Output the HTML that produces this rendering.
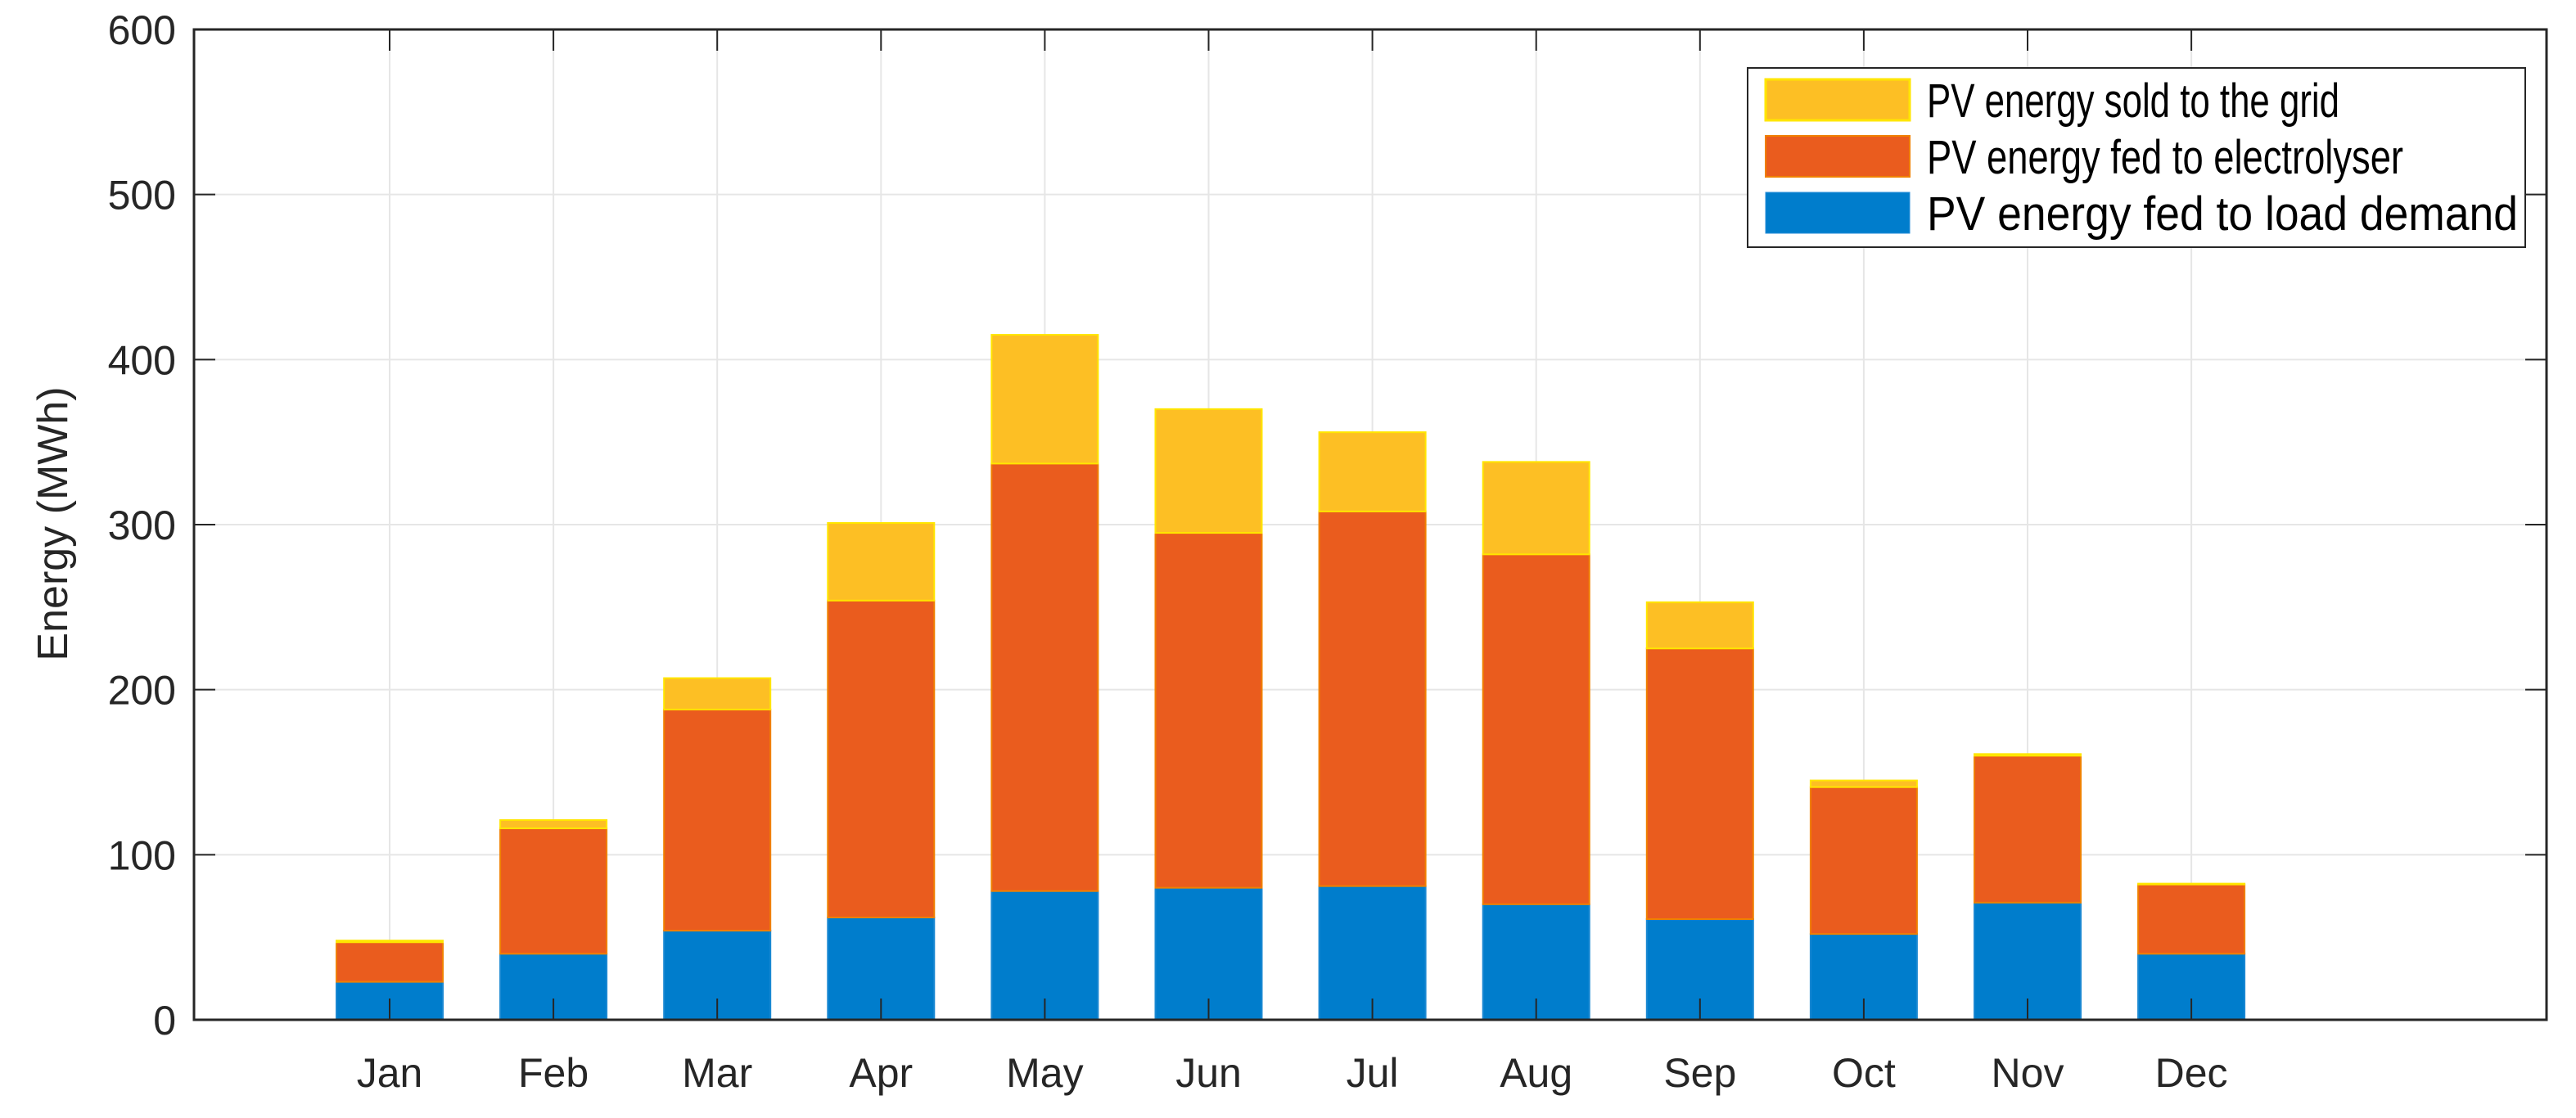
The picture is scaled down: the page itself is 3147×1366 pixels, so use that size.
<!DOCTYPE html>
<html><head><meta charset="utf-8">
<style>
html,body{margin:0;padding:0;background:#fff;}
svg{display:block;font-family:"Liberation Sans",Arial,sans-serif;}
</style></head>
<body>
<svg id="chart" width="3147" height="1366" viewBox="0 0 3147 1366" xmlns="http://www.w3.org/2000/svg">
<rect x="0" y="0" width="3147" height="1366" fill="#fff"/>
<g id="grid"></g>
<g id="bars"></g>
<g id="axes"></g>
<text x="0" y="0" transform="translate(82,640) rotate(-90)" text-anchor="middle" font-size="52" fill="#262626">Energy (MWh)</text>
<g>
<rect x="2135" y="83" width="950" height="219" fill="#fff" stroke="#262626" stroke-width="2"/>
<rect x="2157" y="97" width="176" height="50" fill="#FDBF24" stroke="#FFE600" stroke-width="3"/>
<text x="2354" y="143" font-size="58" textLength="504" lengthAdjust="spacingAndGlyphs" fill="#000">PV energy sold to the grid</text>
<rect x="2157" y="166" width="176" height="50" fill="#EA5C1E" stroke="#F08000" stroke-width="2"/>
<text x="2354" y="212" font-size="58" textLength="582" lengthAdjust="spacingAndGlyphs" fill="#000">PV energy fed to electrolyser</text>
<rect x="2157" y="235" width="176" height="50" fill="#007DCC" stroke="#2A8FD8" stroke-width="1"/>
<text x="2354" y="281" font-size="58" textLength="722" lengthAdjust="spacingAndGlyphs" fill="#000">PV energy fed to load demand</text>
</g>
</svg>
<script>
const months = ["Jan","Feb","Mar","Apr","May","Jun","Jul","Aug","Sep","Oct","Nov","Dec"];
const loadDemand = [23,40,54,62,78,80,81,70,61,52,71,40];
const electrolyser = [24,76,134,192,259,215,227,212,164,89,89,42];
const soldToGrid = [1,5,19,47,78,75,48,56,28,4,1,0.5];
const yTicks = [0,100,200,300,400,500,600];

const NS="http://www.w3.org/2000/svg";
const L=237,R=3111,T=36,B=1246;
const yMax=600;
function yS(v){return B-(v/yMax)*(B-T);}
const x0=476, step=200.1;
function xS(i){return x0+i*step;}
const barW=130;
function mk(tag,attrs,parent){const e=document.createElementNS(NS,tag);for(const k in attrs)e.setAttribute(k,attrs[k]);parent.appendChild(e);return e;}
const grid=document.getElementById('grid'),bars=document.getElementById('bars'),axes=document.getElementById('axes');

yTicks.forEach(t=>{
  const y=yS(t);
  if(t>0&&t<yMax){const g=mk('line',{x1:L,x2:R,y1:y,y2:y,stroke:'#E6E6E6','stroke-width':2},grid);
  
  }
  const tk=mk('text',{x:L-22,y:y+18,'text-anchor':'end','font-size':50,fill:'#262626'},axes);
  tk.textContent=t;
  
  
  [[L,L+26],[R,R-26]].forEach(p=>{const m=mk('line',{x1:p[0],x2:p[1],y1:y,y2:y,stroke:'#262626','stroke-width':2},axes);
  
  });
});
months.forEach((m,i)=>{
  const x=xS(i);
  const g=mk('line',{x1:x,x2:x,y1:T,y2:B,stroke:'#E6E6E6','stroke-width':2},grid);
  
  
  const segs=[[0,loadDemand[i],'#007DCC','#1A88D2','bar-load'],
    [loadDemand[i],loadDemand[i]+electrolyser[i],'#EA5C1E','#F08000','bar-electrolyser'],
    [loadDemand[i]+electrolyser[i],loadDemand[i]+electrolyser[i]+soldToGrid[i],'#FDBF24','#FFE600','bar-grid']];
  segs.forEach(s=>{
    const y1=yS(s[1]),y0=yS(s[0]);
    const r=mk('rect',{x:x-barW/2,y:y1,width:barW,height:Math.max(0,y0-y1),fill:s[2],stroke:s[3],'stroke-width':2},bars);
    
    
  });
  const t=mk('text',{x:x,y:1328,'text-anchor':'middle','font-size':50,fill:'#262626'},axes);
  t.textContent=m;
  
  
  [[B,B-26],[T,T+26]].forEach(p=>{const k=mk('line',{x1:x,x2:x,y1:p[0],y2:p[1],stroke:'#262626','stroke-width':2},axes);
  
  });
});
const frame=mk('rect',{x:L,y:T,width:R-L,height:B-T,fill:'none',stroke:'#262626','stroke-width':3},axes);


</script>
</body></html>
